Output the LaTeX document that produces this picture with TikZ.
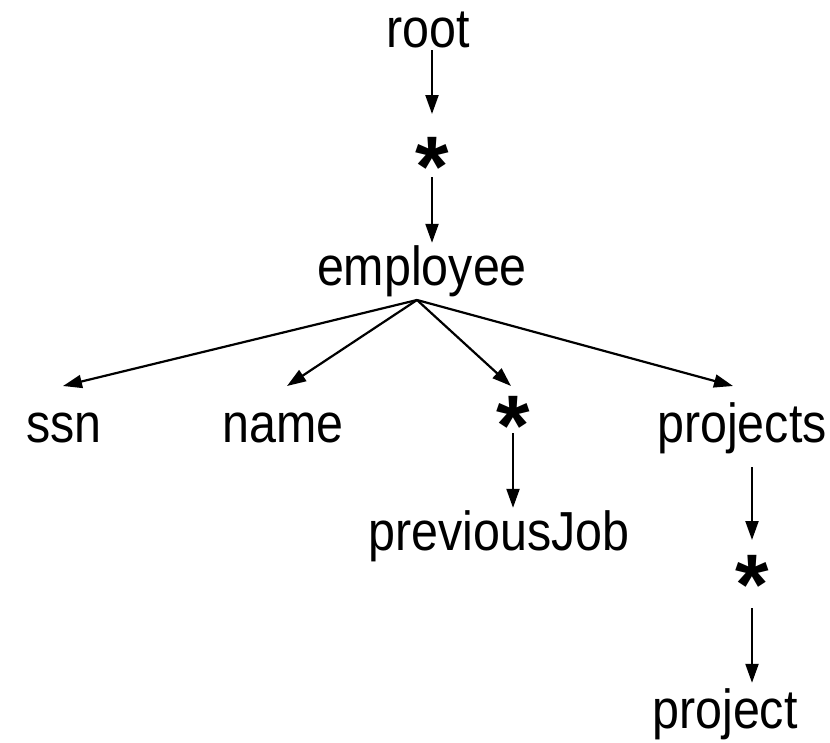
\documentclass[tikz,border=0pt]{standalone}
\usepackage{fontspec}
\setmainfont[FakeStretch=0.88]{Liberation Sans}
\newfontfamily\starfont{Liberation Sans}
\usetikzlibrary{arrows.meta,calc}
\begin{document}
\begin{tikzpicture}[x=1pt,y=-1pt,
  lbl/.style={inner sep=0pt, anchor=base, text height=40pt, text depth=12pt,
              font=\fontsize{55}{60}\selectfont},
  star/.style={inner sep=0pt, anchor=base, text height=101pt, text depth=0pt,
              font=\starfont\bfseries\fontsize{86}{90}\selectfont},
  arr/.style={line width=2.2pt, -{Triangle[length=19pt,width=13pt]}}]
\useasboundingbox (0,0) rectangle (830,742);
\node[lbl] (root) at (428,47) {root};
\node[star] (s1) at (432,196.5) {*};
\node[lbl] (employee) at (422,285) {employee};
\node[lbl] (ssn) at (64,442) {ssn};
\node[lbl] (name) at (283,442) {name};
\node[star] (s2) at (513,455) {*};
\node[lbl] (projects) at (742,442) {projects};
\node[lbl] (prev) at (499,550) {previousJob};
\node[star] (s3) at (752,614.5) {*};
\node[lbl] (project) at (725,728) {project};
\coordinate (eb) at ($(employee.base)+(-5,15)$);
% vertical arrows
\draw[arr, shorten <=3pt, shorten >=32pt] (s1.center |- root.base) -- (s1.center);
\draw[arr, shorten <=31pt, shorten >=2pt] (s1.center) -- (s1.center |- employee.north);
% fan
\draw[arr] (eb) -- ($(ssn.base)+(-1,-56)$);
\draw[arr] (eb) -- ($(name.base)+(4,-56)$);
\draw[arr] (eb) -- ($(s2.center)+(-2,-18.5)$);
\draw[arr] (eb) -- ($(projects.base)+(-9,-56)$);
% lower verticals
\draw[arr, shorten <=28.5pt, shorten >=2pt] (s2.center) -- (s2.center |- prev.north);
\draw[arr, shorten <=25pt, shorten >=24pt] (s3.center |- projects.base) -- (s3.center);
\draw[arr, shorten <=44pt, shorten >=5pt] (s3.center) -- (s3.center |- project.north);
\end{tikzpicture}
\end{document}
